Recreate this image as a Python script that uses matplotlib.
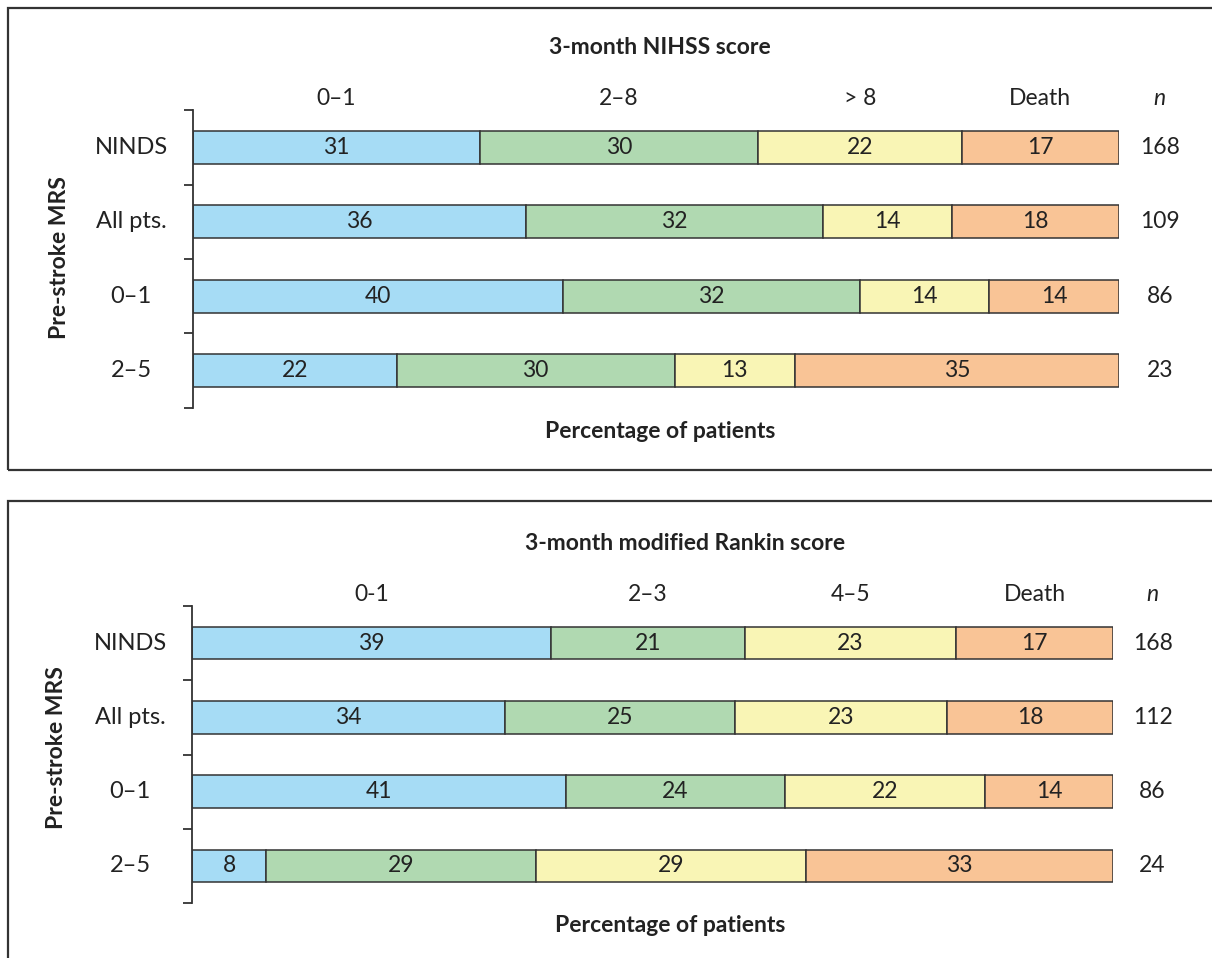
import matplotlib
matplotlib.use("Agg")
import matplotlib.pyplot as plt
from matplotlib.patches import Rectangle
import numpy as np

plt.rcParams['font.family'] = ['Lato', 'DejaVu Sans']

# ---------------- data ----------------
groups = ["NINDS", "All pts.", "0\u20131", "2\u20135"]

nihss_title = "3-month NIHSS score"
nihss_cats = ["0\u20131", "2\u20138", "> 8", "Death"]
nihss_vals = [
    [31, 30, 22, 17],
    [36, 32, 14, 18],
    [40, 32, 14, 14],
    [22, 30, 13, 35],
]
nihss_n = [168, 109, 86, 23]

rankin_title = "3-month modified Rankin score"
rankin_cats = ["0-1", "2\u20133", "4\u20135", "Death"]
rankin_vals = [
    [39, 21, 23, 17],
    [34, 25, 23, 18],
    [41, 24, 22, 14],
    [8, 29, 29, 33],
]
rankin_n = [168, 112, 86, 24]

colors = ["#a6dcf5", "#b0d9b1", "#f9f5b5", "#f9c496"]
edge = "#333333"
txt = "#222222"

W, H = 1212, 958
fig = plt.figure(figsize=(W / 100, H / 100), dpi=100)


def fx(px):
    return px / W


def fy(py):
    return 1 - py / H


# panel frames
for (y0, y1) in [(8, 470), (501, 1000)]:
    fig.patches.append(Rectangle((fx(8), fy(y1)), fx(1300) - fx(8), fy(y0) - fy(y1),
                                 transform=fig.transFigure, fill=False,
                                 edgecolor="#333333", linewidth=1.6, zorder=0))


def panel(ax_px, title, title_xy, xlabel_xy, mrs_xy, cats, vals, ns, nx):
    x0, x1, ytop, ybot = ax_px
    ax = fig.add_axes([fx(x0), fy(ybot), fx(x1) - fx(x0), fy(ytop) - fy(ybot)])
    vals = np.array(vals, dtype=float)
    # rows are drawn as shares of their own total (rounded values may not sum to 100)
    widths = vals / vals.sum(axis=1, keepdims=True) * 100
    ypos = np.arange(len(groups))
    left = np.zeros(len(groups))
    for j in range(vals.shape[1]):
        ax.barh(ypos, widths[:, j], left=left, height=0.44, color=colors[j],
                edgecolor=edge, linewidth=1.1, zorder=2)
        for i in range(len(groups)):
            ax.text(left[i] + widths[i, j] / 2, ypos[i], f"{int(vals[i, j])}",
                    ha="center", va="center", fontsize=16.5, color=txt, zorder=3)
        left += widths[:, j]
    ax.set_xlim(0, 100)
    ax.set_ylim(len(groups) - 0.5, -0.5)
    for s in ["top", "right", "bottom"]:
        ax.spines[s].set_visible(False)
    ax.spines["left"].set_color(edge)
    ax.spines["left"].set_linewidth(1.3)
    ax.set_xticks([])
    ax.set_yticks(np.arange(len(groups) + 1) - 0.5)
    ax.set_yticklabels([])
    ax.tick_params(axis="y", direction="out", length=6.5, width=1.3, color=edge)
    ax.patch.set_alpha(0)

    # group labels
    for i, g in enumerate(groups):
        ax.annotate(g, xy=(0, ypos[i]), xycoords=("axes fraction", "data"),
                    xytext=(-62 * 0.72, 0), textcoords="offset points",
                    ha="center", va="center", fontsize=17, color=txt)
    # headers at centres of first row segments
    first = widths[0]
    centers = np.cumsum(first) - first / 2
    for c, cx in zip(cats, centers):
        ax.annotate(c, xy=(cx, -0.5), xycoords="data", xytext=(0, 8),
                    textcoords="offset points", ha="center", va="center",
                    fontsize=16.5, color=txt, annotation_clip=False)
    ax.annotate("n", xy=(nx, -0.5), xycoords="data", xytext=(0, 8),
                textcoords="offset points", ha="center", va="center",
                fontsize=16.5, color=txt, style="italic", annotation_clip=False)
    for i, n in enumerate(ns):
        ax.text(nx, ypos[i], str(n), ha="center", va="center", fontsize=16.5,
                color=txt, clip_on=False)

    fig.text(fx(title_xy[0]), fy(title_xy[1]), title, ha="center", va="center",
             fontsize=16.5, fontweight="bold", color=txt)
    fig.text(fx(xlabel_xy[0]), fy(xlabel_xy[1]), "Percentage of patients",
             ha="center", va="center", fontsize=16.5, fontweight="bold", color=txt)
    fig.text(fx(mrs_xy[0]), fy(mrs_xy[1]), "Pre-stroke MRS", ha="center",
             va="center", rotation=90, fontsize=16.5, fontweight="bold", color=txt)
    return ax


panel((193, 1119, 110, 408), nihss_title, (660, 47), (660, 432), (60, 258),
      nihss_cats, nihss_vals, nihss_n, 104.4)
panel((192, 1113, 606, 903), rankin_title, (685, 544), (670, 926), (57, 748),
      rankin_cats, rankin_vals, rankin_n, 104.3)

fig.savefig("out.png", dpi=100, facecolor="white")
